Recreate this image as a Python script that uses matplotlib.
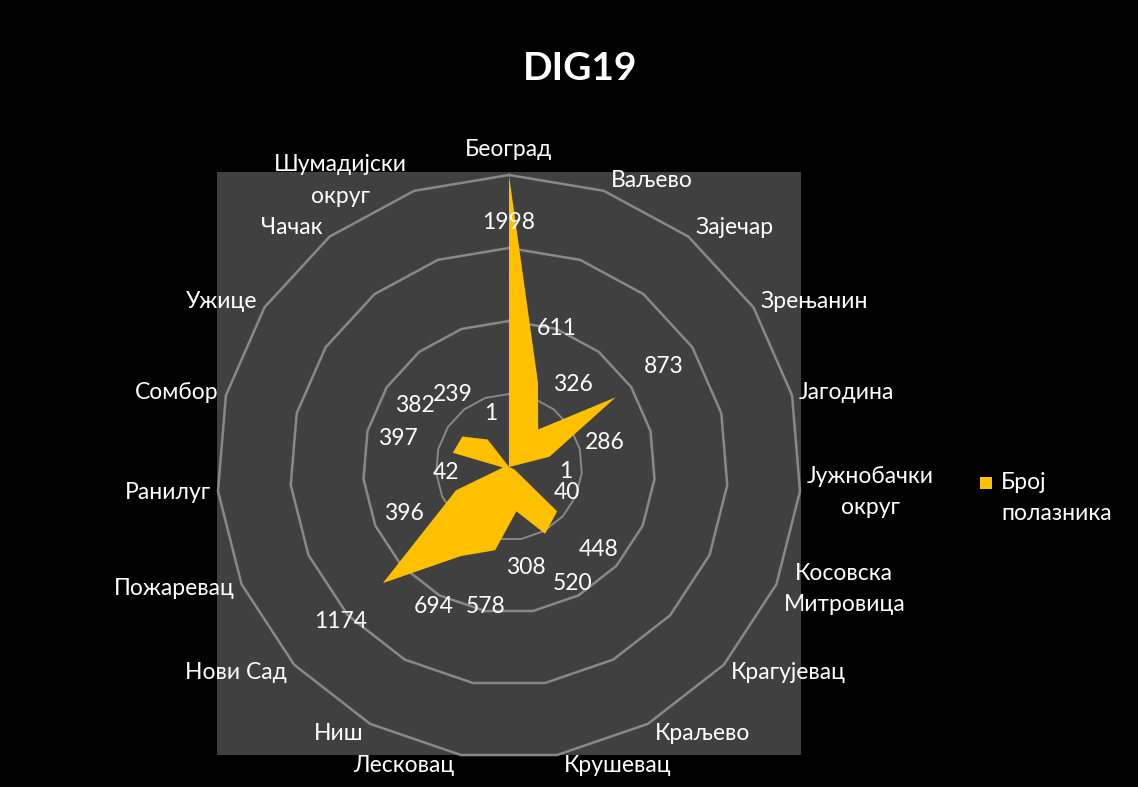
import numpy as np
import matplotlib
matplotlib.use("Agg")
import matplotlib.pyplot as plt
from matplotlib.patches import Rectangle

plt.rcParams['font.family'] = ['Lato', 'DejaVu Sans']

cities = ["Београд", "Ваљево", "Зајечар", "Зрењанин", "Јагодина", "Јужнобачки\nокруг",
          "Косовска\nМитровица", "Крагујевац", "Краљево", "Крушевац", "Лесковац", "Ниш",
          "Нови Сад", "Пожаревац", "Ранилуг", "Сомбор", "Ужице", "Чачак", "Шумадијски\nокруг"]
polaznici = [1998, 611, 326, 873, 286, 1, 40, 448, 520, 308, 578, 694,
             1174, 396, 42, 397, 382, 239, 1]
rings = [500, 1000, 1500, 2000]

W, H = 1138, 787
fig = plt.figure(figsize=(W / 100, H / 100), dpi=100, facecolor='black')

# gray plot area
fig.patches.append(Rectangle((217 / W, 32 / H), 584 / W, 583 / H, transform=fig.transFigure,
                             facecolor='#404040', edgecolor='none', zorder=-5))

ax = fig.add_axes([217 / W, 28 / H, 584 / W, 584 / H], polar=True)
ax.set_zorder(2)
ax.patch.set_alpha(0)
ax.set_theta_zero_location('N')
ax.set_theta_direction(-1)
ax.set_ylim(0, 2000)
ax.set_xticks([])
ax.set_yticks([])
ax.grid(False)
ax.spines['polar'].set_visible(False)

n = len(cities)
theta = np.arange(n) * 2 * np.pi / n
tc = np.append(theta, theta[0])

for r in rings:
    ax.plot(tc, [r] * (n + 1), color='#888888', lw=1.8 if r > 500 else 1.4, zorder=1,
            clip_on=False)

vals = np.append(polaznici, polaznici[0])
ax.fill(tc, vals, color='#FFC000', zorder=3, lw=0)

fs = 16.5
# data labels
for t, v in zip(theta, polaznici):
    rl = v + 390 if v < 1800 else v - 320
    ax.text(t, rl, str(v), color='white', fontsize=fs, ha='center', va='center', zorder=4)

# category labels
for t, c in zip(theta, cities):
    s, co = np.sin(t), np.cos(t)
    if abs(s) < 0.05:
        ha, dx = 'center', 0
        dy = 25 * np.sign(co)
    else:
        ha = 'left' if s > 0 else 'right'
        dx = 7 * np.sign(s)
        dy = 11 * co
    ax.annotate(c, xy=(t, 2000), xytext=(dx, dy), textcoords='offset pixels',
                ha=ha, va='center', color='white', fontsize=fs, multialignment='center',
                annotation_clip=False, linespacing=1.6)

fig.text(580 / W, 1 - 68 / H, "DIG19", color='white', fontsize=28, fontweight='bold',
         ha='center', va='center')

# legend
fig.patches.append(Rectangle((980 / W, 1 - 489 / H), 12 / W, 12 / H, transform=fig.transFigure,
                             facecolor='#FFC000', edgecolor='none'))
fig.text(1001 / W, 1 - 498 / H, "Број\nполазника", color='white', fontsize=fs,
         ha='left', va='center', linespacing=1.6)

fig.savefig('out.png', dpi=100, facecolor='black')
